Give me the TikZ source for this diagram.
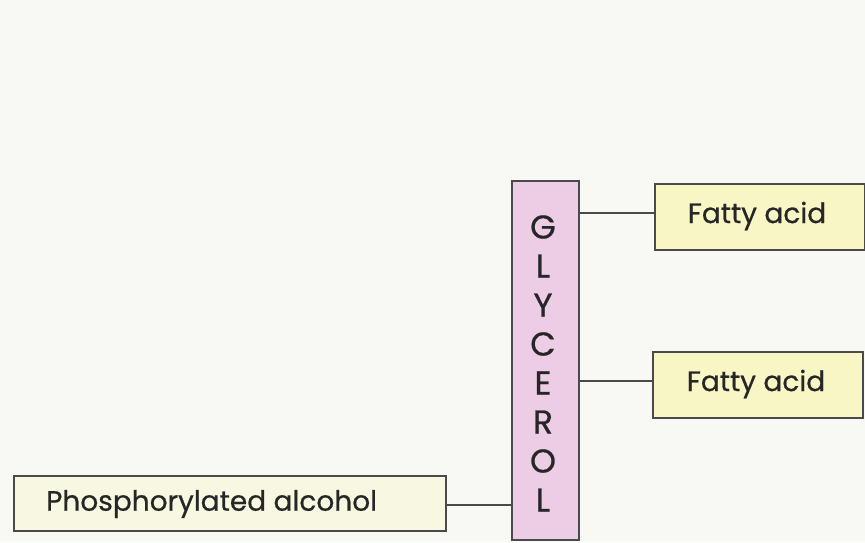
\documentclass[tikz,border=0pt]{standalone}
\usepackage{fontspec}
\setmainfont{Poppins}[FakeBold=0.6]
\definecolor{bgc}{HTML}{F8F8F4}
\definecolor{pinkc}{HTML}{EDCCE6}
\definecolor{yellc}{HTML}{F7F6C4}
\definecolor{linec}{HTML}{4A4A4A}
\begin{document}
\begin{tikzpicture}[x=1pt,y=-1pt,
  boxline/.style={draw=linec,line width=1.6pt},
  fabox/.style={boxline,fill=yellc,minimum width=210pt,minimum height=66pt,anchor=north west,inner sep=0pt},
  conn/.style={draw=linec,line width=1.4pt},
  lbl/.style={font=\fontsize{28}{28}\selectfont,text=black!85},
  glbl/.style={font=\fontsize{33}{33}\selectfont,text=black!85,inner sep=0pt}]
\fill[bgc] (0,0) rectangle (865,542);
\useasboundingbox (0,0) rectangle (865,542);
\node[boxline,fill=pinkc,minimum width=67pt,minimum height=359pt,anchor=north west,inner sep=0pt] (gly) at (511,180) {};
\foreach \ch [count=\i from 0] in {G,L,Y,C,E,R,O,L}
  \node[glbl] (g\i) at (543,{227+39*\i}) {\ch};
\node[fabox] (fa1) at (654,183) {};
\node[lbl] (fa1t) at (757,216) {Fatty acid};
\node[fabox] (fa2) at (652,351) {};
\node[lbl] (fa2t) at (756,384) {Fatty acid};
\node[boxline,fill=bgc!60!yellc,minimum width=432pt,minimum height=55pt,anchor=north west,inner sep=0pt] (pa) at (13,475) {};
\node[lbl,anchor=west,inner sep=0pt] (pat) at (46,504) {Phosphorylated alcohol};
\coordinate (c1) at (gly.east |- 0,213);
\coordinate (c2) at (gly.east |- 0,381);
\coordinate (c3) at (gly.west |- 0,505);
\draw[conn] (c1) -- (fa1.west |- c1);
\draw[conn] (c2) -- (fa2.west |- c2);
\draw[conn] (pa.east |- c3) -- (c3);
\end{tikzpicture}
\end{document}
